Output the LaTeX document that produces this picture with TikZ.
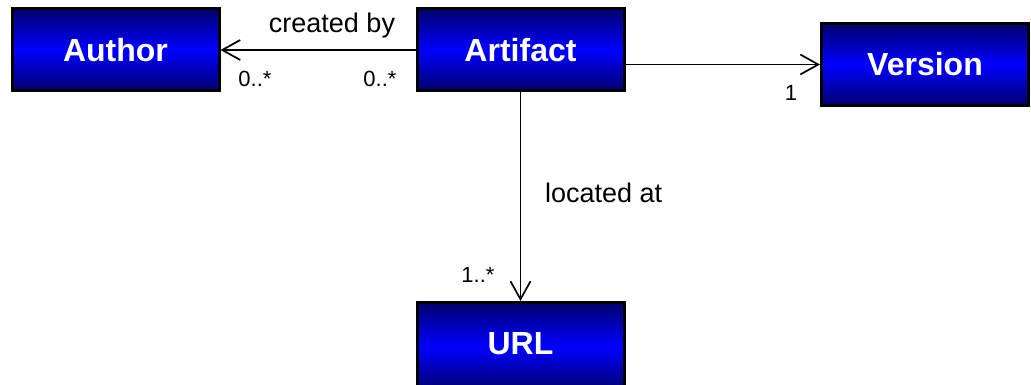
\documentclass[tikz,border=0pt]{standalone}
\usepackage{fontspec}
\setmainfont{Liberation Sans}
\usetikzlibrary{arrows.meta}
\definecolor{boxdark}{RGB}{0,0,110}
\definecolor{boxlight}{RGB}{0,0,255}
\tikzset{
  classfont/.style={text=white, font=\fontsize{32pt}{38pt}\selectfont\bfseries},
  classbox/.style={draw=black, line width=3pt, rectangle,
    minimum width=207pt, minimum height=82pt, inner sep=0pt,
    top color=boxdark, bottom color=boxdark, middle color=boxlight,
    classfont},
  assoc/.style={draw=black, line width=1.7pt,
    -{Straight Barb[length=18pt,width=20pt,line width=1.7pt]}},
  rolename/.style={inner sep=0pt, font=\fontsize{27pt}{32pt}\selectfont},
  mult/.style={inner sep=0pt, font=\fontsize{22pt}{26pt}\selectfont},
}
\begin{document}
\begin{tikzpicture}[x=1pt,y=-1pt]
  \useasboundingbox (0,0) rectangle (1031,385);

  % classes
  \node[classbox] (author)   at (115.5,50)  {Author};
  \node[classbox] (artifact) at (520.5,50)  {Artifact};
  \node[classbox] (version)  at (925,64.5)  {Version};
  % the URL box runs past the lower page edge
  \node[classbox, minimum height=88pt,
        label={[classfont, inner sep=0pt, yshift=3pt]center:URL}] (url) at (520.5,346.5) {};

  % associations
  \draw[assoc] (artifact.west) -- (author.east);
  \draw[assoc] (artifact.east |- version.west) -- (version.west);
  \draw[assoc] (artifact.south) -- (url.north);

  % role names
  \node[rolename, anchor=base] (createdby) at (332,33) {created by};
  \node[rolename, anchor=base west] (locatedat) at (545,202) {located at};

  % multiplicities
  \node[mult] (mAuthor)   at (255,79)    {0..*};
  \node[mult] (mArtifact) at (380,79)    {0..*};
  \node[mult] (mVersion)  at (791,92.5)  {1};
  \node[mult] (mURL)      at (478,274.5) {1..*};
\end{tikzpicture}
\end{document}
